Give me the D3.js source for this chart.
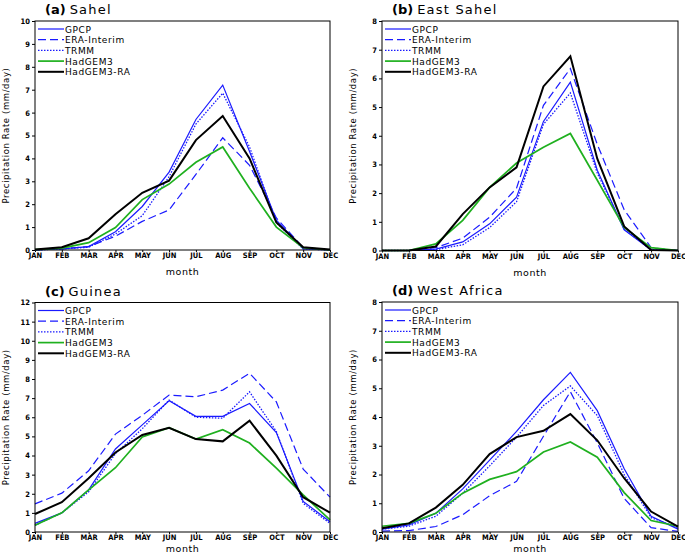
<!DOCTYPE html>
<html><head><meta charset="utf-8">
<script src="https://cdn.jsdelivr.net/npm/d3@7"></script>
<style>body{margin:0;background:#fff}svg{display:block}</style>
</head><body>
<script>
const months = ["JAN","FEB","MAR","APR","MAY","JUN","JUL","AUG","SEP","OCT","NOV","DEC"];
const seriesNames = ["GPCP","ERA-Interim","TRMM","HadGEM3","HadGEM3-RA"];
const panelTitles = [["(a)","Sahel"],["(b)","East Sahel"],["(c)","Guinea"],["(d)","West Africa"]];
const yMaxes = [10, 8, 12, 8];

// Sahel
const sahelGPCP = [0,0.05,0.15,0.8,1.9,3.4,5.7,7.2,4.3,1.3,0.05,0];
const sahelERA  = [0,0.05,0.15,0.6,1.25,1.75,3.3,4.9,3.7,1.4,0.1,0];
const sahelTRMM = [0,0.05,0.12,0.7,1.5,3.2,5.5,6.85,4.5,1.2,0.05,0];
const sahelHG3  = [0.02,0.08,0.32,0.98,2.2,2.88,3.83,4.5,2.7,1.0,0.1,0];
const sahelRA   = [0.02,0.12,0.51,1.56,2.5,3.03,4.8,5.85,4.0,1.2,0.12,0.02];
// East Sahel
const eSahelGPCP = [0,0,0.05,0.3,0.93,1.86,4.5,5.87,2.8,0.72,0.02,0];
const eSahelERA  = [0,0,0.1,0.43,1.16,2.17,5.06,6.34,3.7,1.42,0.1,0];
const eSahelTRMM = [0,0,0.03,0.2,0.8,1.7,4.4,5.49,2.7,0.75,0.02,0];
const eSahelHG3  = [0,0,0.23,1.05,2.2,3.05,3.6,4.08,2.45,0.8,0.1,0];
const eSahelRA   = [0,0,0.14,1.27,2.2,2.9,5.72,6.77,3.2,0.84,0.02,0];
// Guinea
const guineaGPCP = [0.45,1.0,2.2,4.34,5.6,6.86,6.05,6.05,6.72,5.2,1.6,0.54];
const guineaERA  = [1.47,2.03,3.2,5.12,6.1,7.16,7.07,7.42,8.3,6.8,3.29,1.82];
const guineaTRMM = [0.35,1.0,2.1,4.1,5.4,6.9,6.0,5.95,7.33,5.25,1.5,0.45];
const guineaHG3  = [0.35,1.0,2.2,3.36,4.97,5.45,4.86,5.35,4.65,3.34,1.94,0.63];
const guineaRA   = [0.94,1.56,2.81,4.16,5.07,5.45,4.86,4.74,5.82,3.99,1.82,1.01];
// West Africa
const wAfGPCP = [0.1,0.25,0.65,1.5,2.5,3.5,4.6,5.55,4.22,2.2,0.55,0.1];
const wAfERA  = [0.03,0.05,0.19,0.6,1.26,1.76,3.33,4.88,3.1,1.17,0.15,0.02];
const wAfTRMM = [0.1,0.2,0.55,1.35,2.3,3.3,4.4,5.08,4.05,2.0,0.5,0.15];
const wAfHG3  = [0.2,0.3,0.65,1.35,1.83,2.1,2.78,3.13,2.6,1.37,0.4,0.2];
const wAfRA   = [0.13,0.3,0.85,1.64,2.71,3.3,3.52,4.1,3.19,1.87,0.71,0.19];

const panelData = [
  [sahelGPCP,sahelERA,sahelTRMM,sahelHG3,sahelRA],
  [eSahelGPCP,eSahelERA,eSahelTRMM,eSahelHG3,eSahelRA],
  [guineaGPCP,guineaERA,guineaTRMM,guineaHG3,guineaRA],
  [wAfGPCP,wAfERA,wAfTRMM,wAfHG3,wAfRA]
];

const styles = [
  {color:"#1a1aff", width:1.2, dash:null},
  {color:"#1a1aff", width:1.2, dash:"8,4"},
  {color:"#1a1aff", width:1.3, dash:"1.5,1.5"},
  {color:"#1fb01f", width:1.7, dash:null},
  {color:"#000000", width:2.0, dash:null}
];
const boxes = [
  {l:35, t:21, r:330, b:250, ml:25},
  {l:382, t:21, r:678, b:250.5, ml:25},
  {l:35, t:302.5, r:330, b:532, ml:20},
  {l:382, t:302, r:678, b:532, ml:20}
];

const svg = d3.select("body").append("svg").attr("width",685).attr("height",556);
const tickFont = "'Liberation Sans Narrow','Arial Narrow','DejaVu Sans Condensed',sans-serif";

panelData.forEach((series, pi) => {
  const bx = boxes[pi];
  const x = d3.scalePoint().domain(months).range([bx.l, bx.r]);
  const y = d3.scaleLinear().domain([0, yMaxes[pi]]).range([bx.b, bx.t]);
  const g = svg.append("g");

  // y axis
  const ya = g.append("g").attr("transform",`translate(${bx.l},0)`)
    .call(d3.axisLeft(y).ticks(yMaxes[pi]).tickSize(3).tickPadding(2).tickFormat(d3.format("d")));
  ya.select(".domain").remove();
  ya.selectAll("text").attr("font-family",tickFont).attr("font-weight","bold").attr("font-size","7.5px").attr("fill","#000");
  ya.selectAll("line").attr("stroke","#000");
  // x axis
  const xa = g.append("g").attr("transform",`translate(0,${bx.b})`)
    .call(d3.axisBottom(x).tickSize(2).tickPadding(1));
  xa.select(".domain").remove();
  xa.selectAll("text").attr("font-family",tickFont).attr("font-weight","bold").attr("font-size","7.5px").attr("fill","#000");
  xa.selectAll("line").attr("stroke","#000");

  // lines
  const line = d3.line().x((d,i)=>x(months[i])).y(d=>y(d));
  series.forEach((vals, si) => {
    const st = styles[si];
    g.append("path").datum(vals).attr("d",line).attr("fill","none")
      .attr("stroke",st.color).attr("stroke-width",st.width)
      .attr("stroke-dasharray",st.dash).attr("stroke-linejoin","miter");
  });

  // frame
  g.append("rect").attr("x",bx.l).attr("y",bx.t).attr("width",bx.r-bx.l).attr("height",bx.b-bx.t)
    .attr("fill","none").attr("stroke","#000").attr("stroke-width",1);

  // legend
  seriesNames.forEach((nm, si) => {
    const st = styles[si];
    const ly = bx.t + 8 + si*10.7;
    g.append("line").attr("x1",bx.l+3).attr("x2",bx.l+29).attr("y1",ly).attr("y2",ly)
      .attr("stroke",st.color).attr("stroke-width",st.width).attr("stroke-dasharray",st.dash);
    g.append("text").attr("x",bx.l+30).attr("y",ly+3.5).text(nm)
      .attr("font-family","'DejaVu Sans',sans-serif").attr("font-size","9px").attr("letter-spacing","0.6px").attr("fill","#000");
  });

  // title
  const tt = g.append("text").attr("x",bx.l+10).attr("y",bx.t-7)
    .attr("font-family","'DejaVu Sans',sans-serif").attr("fill","#000");
  tt.append("tspan").attr("font-weight","bold").attr("font-size","13px").text(panelTitles[pi][0]);
  tt.append("tspan").attr("font-size","13px").attr("letter-spacing","1.2px").attr("dx",4).text(panelTitles[pi][1]);

  // x label
  g.append("text").attr("x",(bx.l+bx.r)/2).attr("y",bx.b+bx.ml).attr("text-anchor","middle")
    .attr("font-family","'DejaVu Sans',sans-serif").attr("font-size","9.5px").attr("letter-spacing","0.5px").text("month");
  // y label
  g.append("text").attr("transform",`translate(${bx.l-26},${(bx.t+bx.b)/2}) rotate(-90)`)
    .attr("text-anchor","middle").attr("font-family","'DejaVu Sans',sans-serif").attr("font-size","8.5px")
    .attr("letter-spacing","0.6px").text("Precipitation Rate (mm/day)");
});
</script>
</body></html>
